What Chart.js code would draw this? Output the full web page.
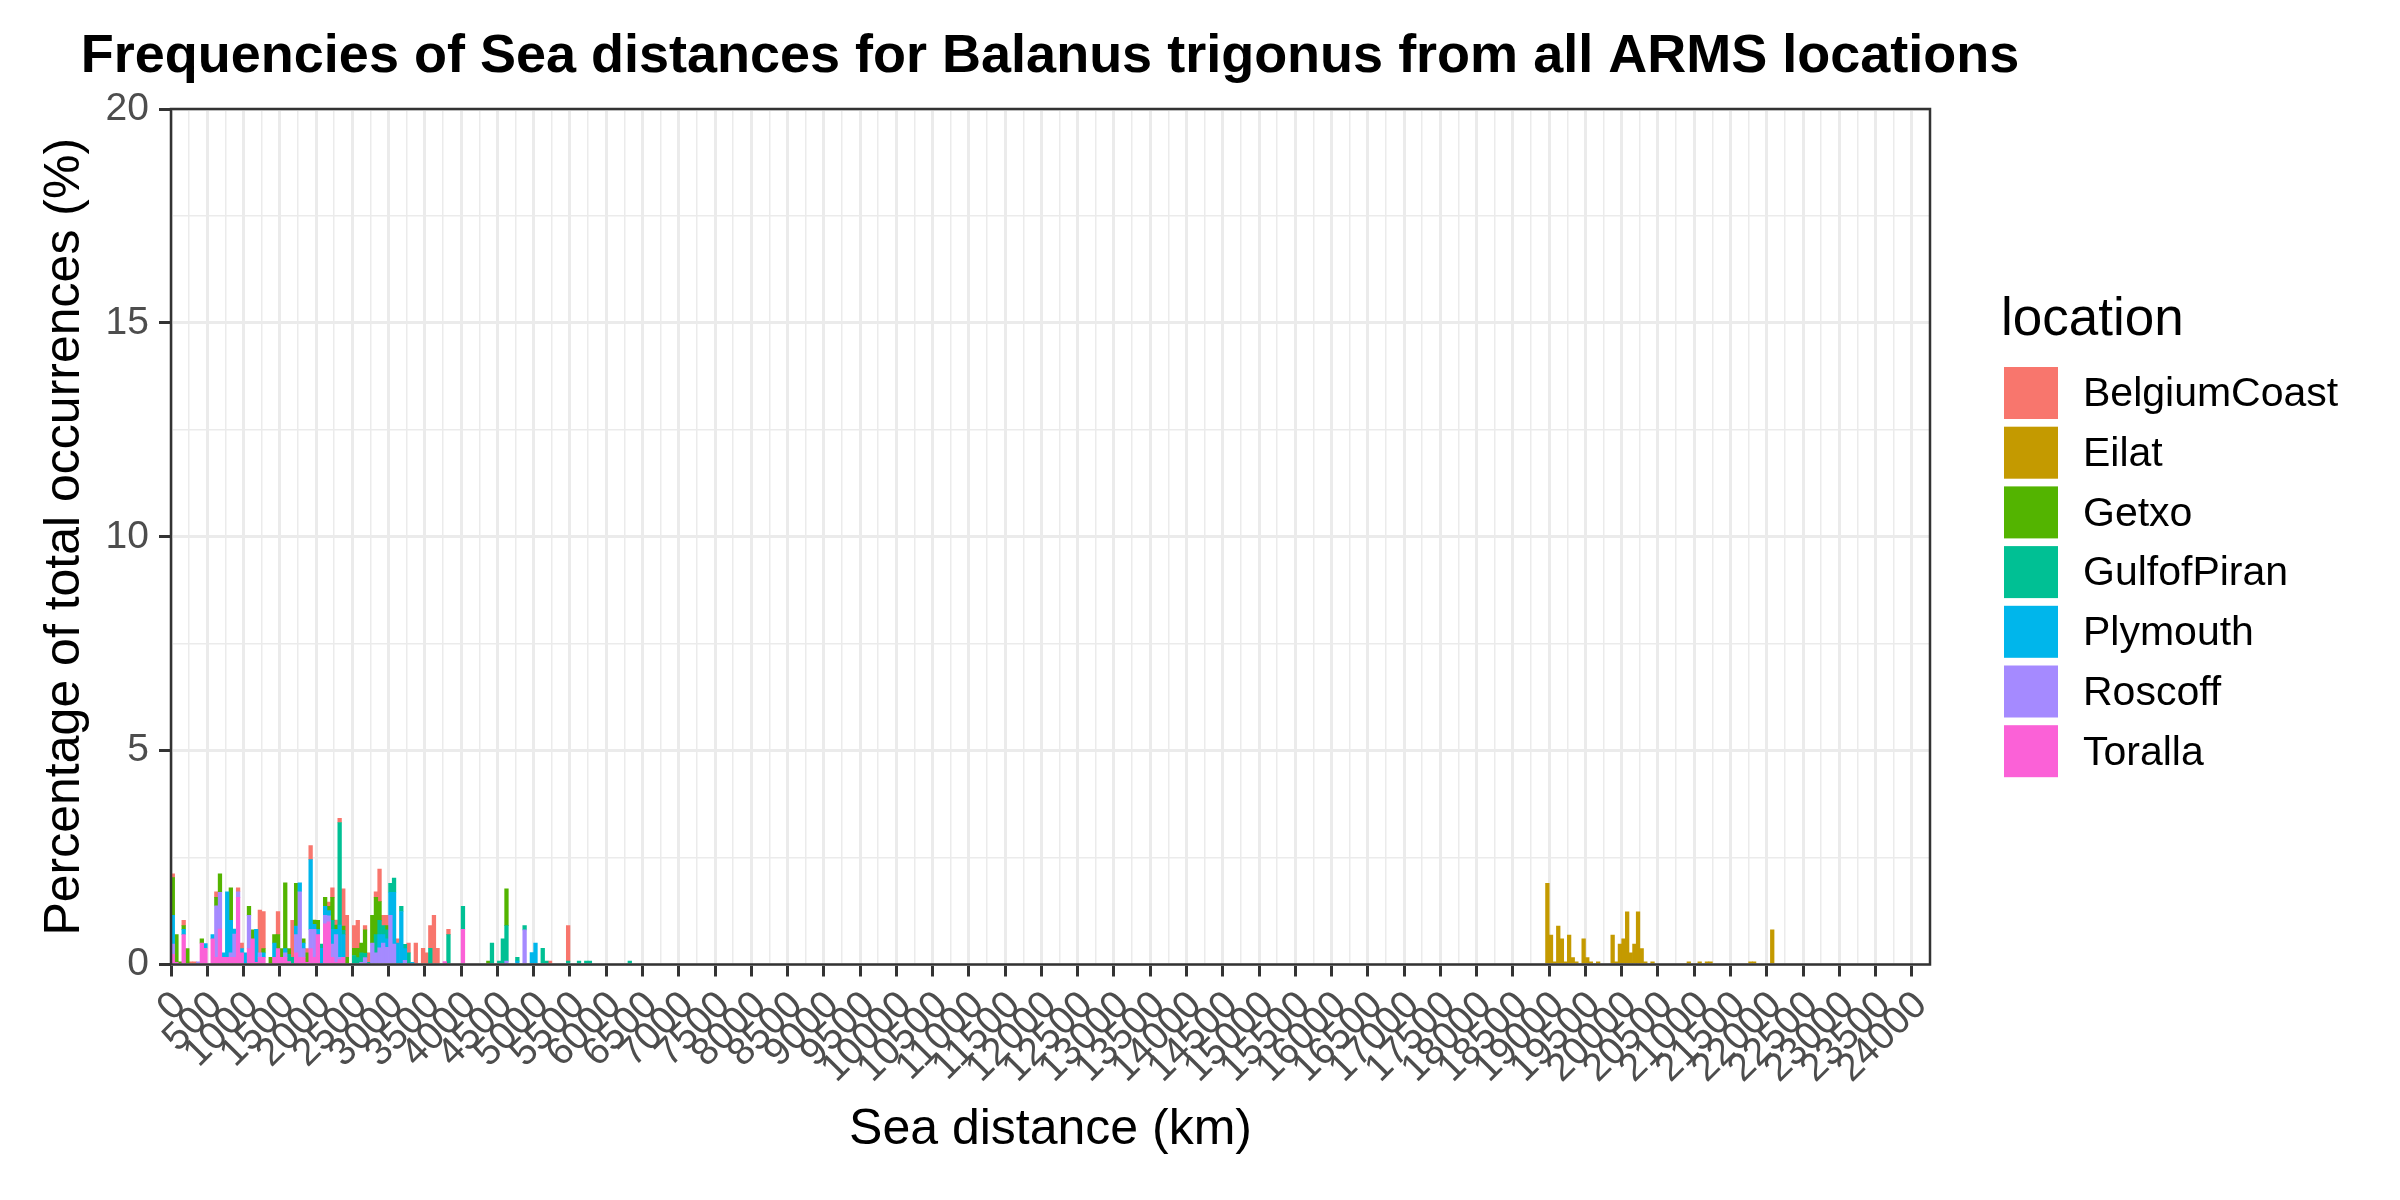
<!DOCTYPE html>
<html>
<head>
<meta charset="utf-8">
<script src="https://cdn.jsdelivr.net/npm/chart.js@4.4.0/dist/chart.umd.min.js"></script>
<style>
  html, body { margin: 0; padding: 0; background: #ffffff; }
  #wrap { width: 2400px; height: 1200px; }
</style>
</head>
<body>
<div id="wrap"><canvas id="c" width="2400" height="1200"></canvas></div>
<script>
// ---------------- DATA ----------------
const chartTitle = 'Frequencies of Sea distances for Balanus trigonus from all ARMS locations';
const xAxisTitle = 'Sea distance (km)';
const yAxisTitle = 'Percentage of total occurrences (%)';
const legendTitle = 'location';

const binWidthKm = 50;
const xMaxKm = 24250;
const xLabelMaxKm = 24000;
const xMajorStepKm = 500;
const xMinorStepKm = 250;
const yMax = 20;
const yMajorStep = 5;
const yMinorStep = 2.5;

const locations = ['BelgiumCoast', 'Eilat', 'Getxo', 'GulfofPiran', 'Plymouth', 'Roscoff', 'Toralla'];
const locationColors = ['#F8766D', '#C49A00', '#53B400', '#00C094', '#00B6EB', '#A58AFF', '#FB61D7'];

// [bin start (km), percentage of total occurrences]
const belgiumCoast = [[0,0.09],[150,0.12],[250,0.06],[300,0.06],[600,0.13],[900,0.09],[950,0.13],[1200,1.0],[1250,0.87],[1450,0.54],[1650,0.86],[1850,0.1],[1900,0.33],[2150,0.1],[2200,0.22],[2250,0.12],[2300,0.1],[2350,0.87],[2400,0.98],[2500,0.53],[2550,0.65],[2650,0.1],[2700,0.22],[2800,0.13],[2850,0.76],[2900,0.24],[2950,0.24],[3100,0.1],[3250,0.23],[3350,0.5],[3450,0.38],[3500,0.27],[3550,0.53],[3600,1.15],[3650,0.38],[3800,0.12],[5200,0.08],[5450,0.83]];
const eilat = [[18950,1.9],[19000,0.69],[19050,0.06],[19100,0.9],[19150,0.6],[19200,0.06],[19250,0.69],[19300,0.16],[19350,0.06],[19450,0.6],[19500,0.16],[19550,0.06],[19650,0.06],[19850,0.69],[19900,0.06],[19950,0.48],[20000,0.6],[20050,1.23],[20100,0.27],[20150,0.48],[20200,1.23],[20250,0.37],[20300,0.06],[20400,0.06],[20900,0.06],[21050,0.06],[21150,0.06],[21200,0.06],[21750,0.06],[21800,0.06],[22050,0.81]];
const getxo = [[0,0.88],[50,0.65],[100,0.06],[150,0.09],[200,0.37],[400,0.1],[600,0.2],[650,0.43],[800,0.76],[1050,0.21],[1100,0.21],[1250,0.1],[1350,0.17],[1400,0.2],[1450,0.33],[1500,0.2],[1550,1.54],[1600,0.13],[1700,1.0],[1800,0.1],[1850,0.22],[1950,0.1],[2000,0.21],[2100,0.21],[2150,0.1],[2200,0.54],[2250,0.1],[2350,0.1],[2400,0.17],[2500,0.17],[2550,0.22],[2600,0.23],[2650,0.55],[2750,0.65],[2800,0.87],[2850,0.44],[2950,0.1],[4350,0.08],[4600,0.86]];
const gulfofPiran = [[1600,0.17],[1650,0.17],[2050,0.1],[2200,0.21],[2300,2.4],[2350,0.1],[2500,0.21],[2550,0.16],[2600,0.22],[2650,0.1],[2700,0.05],[2800,0.43],[2850,0.33],[2900,0.21],[2950,0.21],[3000,0.21],[3050,0.33],[3150,0.12],[3200,0.1],[3250,0.27],[3550,0.38],[3800,0.7],[4000,0.54],[4400,0.5],[4500,0.08],[4550,0.6],[4600,0.83],[4750,0.09],[4850,0.1],[5100,0.38],[5150,0.08],[5450,0.08],[5600,0.08],[5700,0.08],[5750,0.08],[6300,0.08]];
const plymouth = [[0,0.67],[150,0.12],[450,0.11],[550,0.1],[700,0.1],[750,1.53],[800,0.76],[850,0.12],[950,0.1],[1000,0.27],[1150,0.77],[1250,0.1],[1400,0.33],[1550,0.1],[1700,0.2],[1750,0.21],[1800,0.13],[1900,1.63],[1950,0.12],[2000,0.12],[2050,0.38],[2100,0.21],[2150,0.12],[2200,0.34],[2250,0.12],[2300,0.75],[2350,0.53],[2850,0.31],[2900,0.2],[2950,0.2],[3000,0.54],[3050,1.21],[3100,0.5],[3150,1.24],[3200,0.27],[3300,0.05],[4750,0.08],[4950,0.28],[5000,0.5]];
const roscoff = [[0,0.24],[350,0.06],[600,1.2],[650,0.86],[800,0.1],[850,0.54],[900,0.13],[1050,0.78],[1200,0.1],[1550,0.1],[1700,0.43],[1750,1.53],[1800,0.2],[1900,0.45],[1950,0.65],[2100,0.2],[2150,0.14],[2200,0.31],[2250,0.65],[2300,0.05],[2600,0.05],[2650,0.16],[2750,0.5],[2800,0.27],[2850,0.39],[2900,0.5],[2950,0.4],[3000,1.15],[3050,0.48],[3200,0.1],[4600,0.08],[4850,0.81]];
const toralla = [[0,0.24],[50,0.05],[150,0.7],[400,0.5],[450,0.38],[550,0.6],[600,0.17],[650,0.83],[700,0.17],[750,0.17],[800,0.17],[850,0.17],[900,1.57],[950,0.27],[1050,0.37],[1100,0.6],[1150,0.05],[1200,0.17],[1250,0.17],[1400,0.17],[1450,0.37],[1500,0.17],[1550,0.17],[1600,0.07],[1700,0.27],[1750,0.17],[1800,0.17],[1850,0.05],[1900,0.37],[1950,0.17],[2000,0.7],[2100,0.95],[2150,1.0],[2200,0.17],[2250,0.05],[2300,0.12],[2350,0.17],[3750,0.07],[4000,0.82]];

const seriesByLocation = {
  BelgiumCoast: belgiumCoast, Eilat: eilat, Getxo: getxo, GulfofPiran: gulfofPiran,
  Plymouth: plymouth, Roscoff: roscoff, Toralla: toralla
};

// ---------------- STYLE ----------------
const FONT = '"Liberation Sans", Arial, Helvetica, sans-serif';
const GRID = '#EBEBEB';
const DARK = '#333333';
const TICKTEXT = '#4D4D4D';

// page layout (px): outer margins chosen so the title box is centred over the panel
const PAD_LEFT = 75, PAD_RIGHT = 375, Y_AXIS_W = 96, RIGHT_GAP_W = 95, X_AXIS_H = 235.5;

// ggplot stacks the last factor level at the bottom
const stackOrder = locations.slice().reverse();

const datasets = stackOrder.map(name => ({
  label: name,
  data: seriesByLocation[name].map(([start, pct]) => ({ x: start + binWidthKm / 2, y: pct })),
  backgroundColor: locationColors[locations.indexOf(name)],
  borderWidth: 0,
  barPercentage: 1,
  categoryPercentage: 1
}));

const isMajorX = v => Math.abs(v % xMajorStepKm) < 1e-6;
const isMajorY = v => Math.abs(v % yMajorStep) < 1e-6;

const panelBorder = {
  id: 'panelBorder',
  afterDatasetsDraw(chart) {
    const { ctx, chartArea: a } = chart;
    ctx.save();
    ctx.strokeStyle = DARK;
    ctx.lineWidth = 2.5;
    ctx.strokeRect(a.left, a.top, a.right - a.left, a.bottom - a.top);
    ctx.restore();
  }
};

const legendLayout = { keyX: 2004, keyW: 54, keyH: 52, firstTop: 367, step: 59.7, textX: 2083, textDy: 2, titleX: 2001, titleBaseline: 335, titleSize: 53, textSize: 41 };

const sideLegend = {
  id: 'sideLegend',
  afterDraw(chart) {
    const ctx = chart.ctx;
    const L = legendLayout;
    ctx.save();
    ctx.fillStyle = '#000000';
    ctx.textAlign = 'left';
    ctx.textBaseline = 'alphabetic';
    ctx.font = `${L.titleSize}px ${FONT}`;
    ctx.fillText(legendTitle, L.titleX, L.titleBaseline);
    ctx.font = `${L.textSize}px ${FONT}`;
    ctx.textBaseline = 'middle';
    locations.forEach((name, i) => {
      const ds = chart.data.datasets.find(d => d.label === name);
      const top = L.firstTop + i * L.step;
      ctx.fillStyle = ds.backgroundColor;
      ctx.fillRect(L.keyX, top, L.keyW, L.keyH);
      ctx.fillStyle = '#000000';
      ctx.fillText(name, L.textX, top + L.keyH / 2 + L.textDy);
    });
    ctx.restore();
  }
};

new Chart(document.getElementById('c'), {
  type: 'bar',
  data: { datasets },
  plugins: [panelBorder, sideLegend],
  options: {
    responsive: false,
    animation: false,
    devicePixelRatio: 1,
    layout: { padding: { left: PAD_LEFT, right: PAD_RIGHT, top: 0, bottom: 0 } },
    plugins: {
      legend: { display: false },
      tooltip: { enabled: false },
      title: {
        display: true,
        text: chartTitle,
        color: '#000000',
        align: 'center',
        fullSize: true,
        font: { family: FONT, size: 54, weight: 'bold' },
        padding: { top: 25, bottom: 19.2 }
      }
    },
    scales: {
      x: {
        type: 'linear',
        min: 0,
        max: xMaxKm,
        stacked: true,
        offset: false,
        grid: {
          offset: false,
          color: GRID,
          lineWidth: c => (c.tick && isMajorX(c.tick.value)) ? 3 : 1.5,
          drawTicks: true,
          tickLength: 12,
          tickColor: c => (c.tick && isMajorX(c.tick.value) && c.tick.value <= xLabelMaxKm) ? DARK : 'rgba(0,0,0,0)',
          tickWidth: 3
        },
        border: { display: false },
        ticks: {
          stepSize: xMinorStepKm,
          maxTicksLimit: 500,
          autoSkip: false,
          minRotation: 45,
          maxRotation: 45,
          padding: 6,
          labelOffset: 9,
          color: TICKTEXT,
          font: { family: FONT, size: 39 },
          callback: v => (isMajorX(v) && v <= xLabelMaxKm) ? String(v) : ''
        },
        title: {
          display: true,
          text: xAxisTitle,
          color: '#000000',
          font: { family: FONT, size: 50 },
          padding: { top: 0, bottom: 40 }
        },
        afterFit: s => { s.height = X_AXIS_H; }
      },
      y: {
        type: 'linear',
        position: 'left',
        min: 0,
        max: yMax,
        stacked: true,
        grid: {
          color: GRID,
          lineWidth: c => (c.tick && isMajorY(c.tick.value)) ? 3 : 1.5,
          drawTicks: true,
          tickLength: 12,
          tickColor: c => (c.tick && isMajorY(c.tick.value)) ? DARK : 'rgba(0,0,0,0)',
          tickWidth: 3
        },
        border: { display: false },
        ticks: {
          stepSize: yMinorStep,
          maxTicksLimit: 100,
          padding: 10,
          color: TICKTEXT,
          font: { family: FONT, size: 39 },
          callback: v => isMajorY(v) ? String(v) : ''
        },
        title: {
          display: true,
          text: yAxisTitle,
          color: '#000000',
          font: { family: FONT, size: 50 },
          padding: { top: 65 - PAD_LEFT - 30, bottom: 0 }
        },
        afterFit: s => { s.width = Y_AXIS_W; }
      },
      // empty spacer between the panel and the legend (draws nothing)
      gap: {
        type: 'linear',
        position: 'right',
        display: true,
        grid: { display: false, drawTicks: false },
        border: { display: false },
        ticks: { display: false },
        afterFit: s => { s.width = RIGHT_GAP_W; }
      }
    }
  }
});
</script>
</body>
</html>
